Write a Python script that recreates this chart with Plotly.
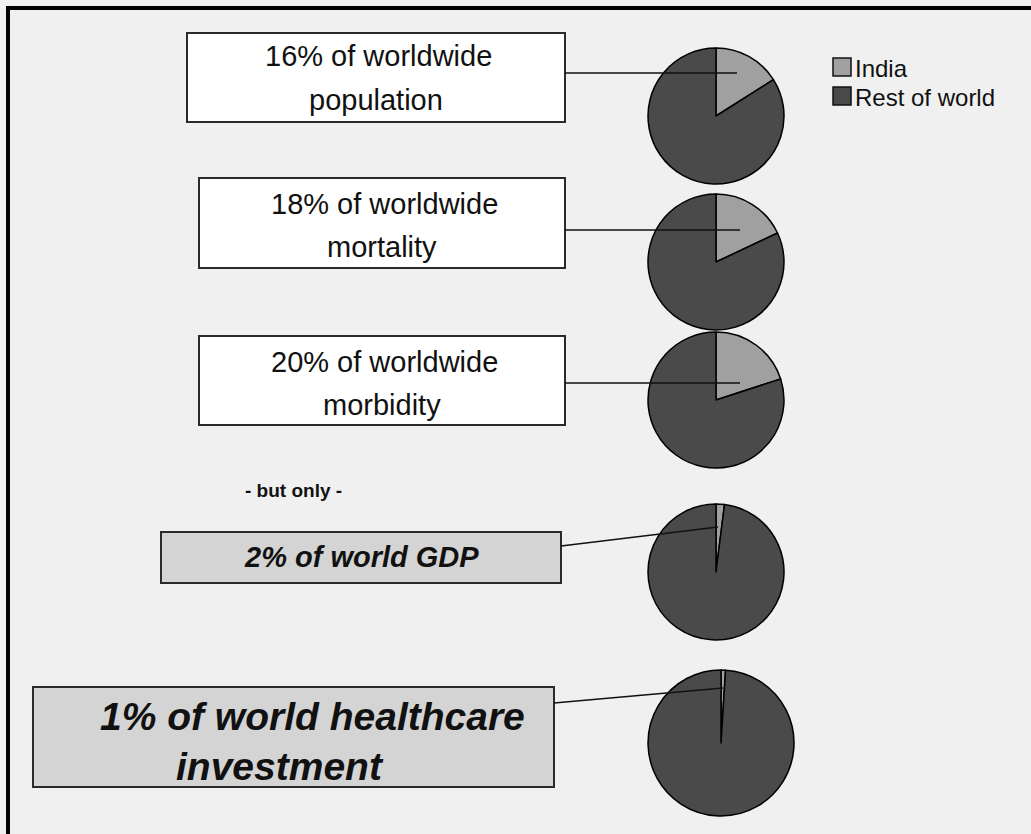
import plotly.graph_objects as go

W, H = 1031, 834

# India's share of each worldwide measure (percent)
india_share = [16, 18, 20, 2, 1]
measure_lines = [
    ["16% of worldwide", "population"],
    ["18% of worldwide", "mortality"],
    ["20% of worldwide", "morbidity"],
    ["<b><i>2% of world GDP</i></b>"],
    ["<b><i>1% of world healthcare</i></b>", "<b><i>investment</i></b>"],
]
slice_labels = ["India", "Rest of world"]
slice_colors = ["#a0a0a0", "#4a4a4a"]

# pie centres and radii (px)
pie_cx = [716, 716, 716, 716, 721]
pie_cy = [116, 262, 400, 572, 743]
pie_r = [68, 68, 68, 68, 73]

# text boxes: x0, y0, x1, y1 (px), fill, font size, line centres (x, y) in px
boxes = [
    (187, 33, 565, 122, "white", 29, [(378, 56), (376, 100)]),
    (199, 178, 565, 268, "white", 29, [(384, 204), (382, 247)]),
    (199, 336, 565, 425, "white", 29, [(384, 362), (382, 405)]),
    (161, 532, 561, 583, "#d4d4d4", 29, [(361, 557)]),
    (33, 687, 554, 787, "#d4d4d4", 39, [(312, 716), (280, 766)]),
]
# leader lines from box edge into pie: (x0, y0, x1, y1)
leaders = [
    (565, 73, 737, 73),
    (565, 230, 740, 230),
    (565, 383, 740, 383),
    (561, 546, 718, 527),
    (554, 703, 723, 688),
]

fig = go.Figure()

for share, cx, cy, r in zip(india_share, pie_cx, pie_cy, pie_r):
    fig.add_trace(go.Pie(
        labels=slice_labels,
        values=[share, 100 - share],
        marker=dict(colors=slice_colors, line=dict(color="#000000", width=1.5)),
        textinfo="none",
        hoverinfo="label+percent",
        sort=False,
        direction="clockwise",
        rotation=0,
        showlegend=False,
        domain=dict(x=[(cx - r) / W, (cx + r) / W], y=[1 - (cy + r) / H, 1 - (cy - r) / H]),
    ))

shapes = []
annotations = []
FONT = "Liberation Sans, Arial"

for (x0, y0, x1, y1, fill, fs, line_pos), lines in zip(boxes, measure_lines):
    shapes.append(dict(type="rect", xref="x", yref="y", x0=x0, y0=y0, x1=x1, y1=y1,
                       fillcolor=fill, line=dict(color="#2a2a2a", width=2), layer="below"))
    for txt, (tx, ty) in zip(lines, line_pos):
        annotations.append(dict(xref="x", yref="y", x=tx, y=ty,
                                text=txt, showarrow=False,
                                font=dict(family=FONT, size=fs, color="#111111")))

for (x0, y0, x1, y1) in leaders:
    shapes.append(dict(type="line", xref="x", yref="y", x0=x0, y0=y0, x1=x1, y1=y1,
                       line=dict(color="#111111", width=1.5), layer="above"))

annotations.append(dict(xref="x", yref="y", x=293, y=490, text="<b>- but only -</b>",
                        showarrow=False,
                        font=dict(family=FONT, size=19, color="#111111")))

# legend swatches and labels
leg_y = [67, 96]
for lab, col, ly in zip(slice_labels, slice_colors, leg_y):
    shapes.append(dict(type="rect", xref="x", yref="y", x0=833, y0=ly - 9, x1=851, y1=ly + 9,
                       fillcolor=col, line=dict(color="#111111", width=1.5)))
    annotations.append(dict(xref="x", yref="y", x=853, y=ly + 1, text=lab, showarrow=False,
                            xanchor="left", yanchor="middle",
                            font=dict(family=FONT, size=24, color="#111111")))

# frame lines along the top and left edges
shapes.append(dict(type="line", xref="x", yref="y", x0=6, y0=8, x1=W, y1=8,
                   line=dict(color="black", width=4)))
shapes.append(dict(type="line", xref="x", yref="y", x0=8, y0=6, x1=8, y1=H,
                   line=dict(color="black", width=4)))

fig.update_layout(
    width=W, height=H,
    margin=dict(l=0, r=0, t=0, b=0),
    paper_bgcolor="#f0f0f0",
    plot_bgcolor="#f0f0f0",
    xaxis=dict(range=[0, W], visible=False, fixedrange=True),
    yaxis=dict(range=[H, 0], visible=False, fixedrange=True),
    shapes=shapes,
    annotations=annotations,
)

fig.write_html("out.html")
